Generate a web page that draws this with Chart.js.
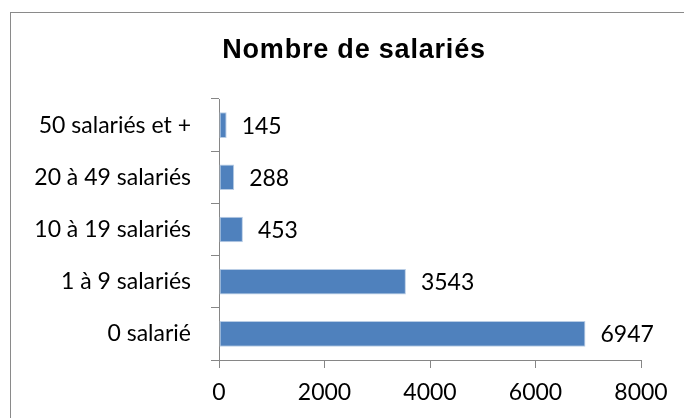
<!DOCTYPE html>
<html><head><meta charset="utf-8">
<script src="https://cdn.jsdelivr.net/npm/chart.js@4.4.1/dist/chart.umd.min.js"></script>
<style>html,body{margin:0;padding:0;background:#fff;}#wrap{width:684px;height:418px;}</style>
</head><body><div id="wrap"><canvas id="c" width="684" height="418"></canvas></div>
<script>
const categories = ["50 salariés et +", "20 à 49 salariés", "10 à 19 salariés", "1 à 9 salariés", "0 salarié"];
const values = [145, 288, 453, 3543, 6947];
const xTicks = [0, 2000, 4000, 6000, 8000];
const titleText = "Nombre de salariés";

const FONT = "Lato";
const FSIZE = 23;
const framePlugin = {
  id: 'frame',
  beforeDraw(chart) {
    const ctx = chart.ctx;
    ctx.save();
    ctx.strokeStyle = '#8a8a8a';
    ctx.lineWidth = 1;
    ctx.strokeRect(10.5, 12.5, 800, 600);
    ctx.font = "bold 27px 'Liberation Sans'";
    ctx.fillStyle = '#000';
    ctx.textAlign = 'center';
    ctx.textBaseline = 'alphabetic';
    ctx.letterSpacing = '0.8px';
    ctx.fillText(titleText, 354, 58);
    ctx.restore();
  }
};
const labelPlugin = {
  id: 'vlabels',
  afterDatasetsDraw(chart) {
    const ctx = chart.ctx;
    const meta = chart.getDatasetMeta(0);
    ctx.save();
    ctx.font = FSIZE + "px " + FONT;
    ctx.fillStyle = '#000';
    ctx.textAlign = 'left';
    ctx.textBaseline = 'middle';
    meta.data.forEach((bar, i) => {
      ctx.fillText(String(values[i]), bar.x + 15, bar.y + 1);
    });
    ctx.restore();
  }
};

new Chart(document.getElementById('c'), {
  type: 'bar',
  data: {
    labels: categories,
    datasets: [{
      data: values,
      backgroundColor: '#4F81BD',
      borderColor: '#B9CDE5',
      borderWidth: 1,
      borderSkipped: false,
      categoryPercentage: 1,
      barPercentage: 0.49
    }]
  },
  options: {
    indexAxis: 'y',
    responsive: false,
    animation: false,
    layout: { padding: { left: 22, right: 43, top: 99, bottom: 0 } },
    plugins: {
      legend: { display: false },
      tooltip: { enabled: false },
      title: { display: false }
    },
    scales: {
      x: {
        min: 0, max: 8000,
        afterBuildTicks(s) { s.ticks = xTicks.map(v => ({ value: v })); },
        afterFit(s) { s.height = 58; },
        grid: { drawOnChartArea: false, drawTicks: true, tickLength: 8, color: '#868686' },
        border: { color: '#868686' },
        ticks: { color: '#000', font: { family: FONT, size: FSIZE }, padding: 11, maxRotation: 0,
                 callback: v => String(v) }
      },
      y: {
        afterFit(s) { s.width = 197; },
        grid: { drawOnChartArea: false, drawTicks: true, tickLength: 8, color: '#868686', offset: true },
        border: { color: '#868686' },
        ticks: { color: '#000', font: { family: FONT, size: FSIZE }, padding: 20 }
      }
    }
  },
  plugins: [framePlugin, labelPlugin]
});
</script></body></html>
